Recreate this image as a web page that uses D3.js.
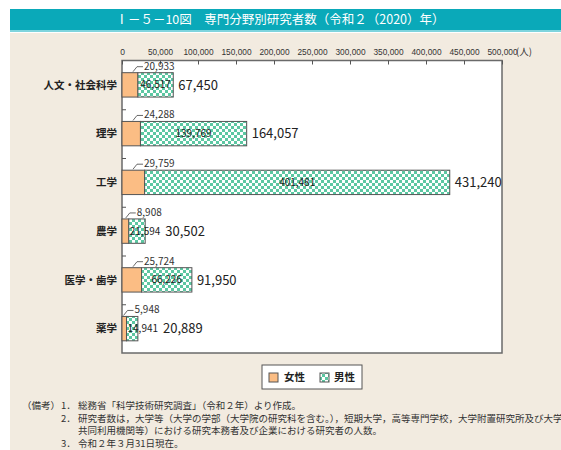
<!DOCTYPE html>
<html>
<head>
<meta charset="utf-8">
<script src="https://cdn.jsdelivr.net/npm/d3@7"></script>
<style>
  body { margin: 0; background: #fff; }
  text { font-family: "Noto Sans CJK JP", "Noto Sans", sans-serif; }
</style>
</head>
<body>
<div id="chart"></div>
<script>
// data
const categories = ["人文・社会科学", "理学", "工学", "農学", "医学・歯学", "薬学"];
const female = [20933, 24288, 29759, 8908, 25724, 5948];
const male = [46517, 139769, 401481, 21594, 66226, 14941];
const totals = [67450, 164057, 431240, 30502, 91950, 20889];
const xTicks = [0, 50000, 100000, 150000, 200000, 250000, 300000, 350000, 400000, 450000, 500000];

const titleText = "Ⅰ－５－10図　専門分野別研究者数（令和２（2020）年）";
const notes = [
  ["（備考）", "1．", "総務省「科学技術研究調査」（令和２年）より作成。"],
  ["", "2．", "研究者数は，大学等（大学の学部（大学院の研究科を含む。），短期大学，高等専門学校，大学附置研究所及び大学"],
  ["", "", "共同利用機関等）における研究本務者及び企業における研究者の人数。"],
  ["", "3．", "令和２年３月31日現在。"]
];

const width = 561, height = 450;
const plot = { left: 122, right: 502, top: 60.5, bottom: 353 };
const fmt = d3.format(",");

const svg = d3.select("#chart").append("svg")
  .attr("width", width)
  .attr("height", height);

// checkered fill for the male bars
const defs = svg.append("defs");
const pat = defs.append("pattern")
  .attr("id", "check")
  .attr("patternUnits", "userSpaceOnUse")
  .attr("width", 6)
  .attr("height", 6);
pat.append("rect").attr("width", 6).attr("height", 6).attr("fill", "#5cc7a2");
pat.append("rect").attr("width", 3).attr("height", 3).attr("fill", "#ffffff");
pat.append("rect").attr("x", 3).attr("y", 3).attr("width", 3).attr("height", 3).attr("fill", "#ffffff");

// background panel + title bar
svg.append("rect").attr("x", 10).attr("y", 9).attr("width", width - 10).attr("height", height - 9).attr("fill", "#f2ebe0");
svg.append("rect").attr("x", 10).attr("y", 9).attr("width", width - 10).attr("height", 21).attr("fill", "#0aa9b9");
svg.append("rect").attr("x", 10).attr("y", 30).attr("width", width - 10).attr("height", 2).attr("fill", "#7fd4dd");
svg.append("rect").attr("x", 10).attr("y", 32).attr("width", width - 10).attr("height", 1).attr("fill", "#ffffff");
svg.append("text")
  .attr("x", 280)
  .attr("y", 24)
  .attr("text-anchor", "middle")
  .attr("fill", "#ffffff")
  .style("font-size", "12.5px")
  .text(titleText);

// plot area
svg.append("rect")
  .attr("x", plot.left)
  .attr("y", plot.top)
  .attr("width", plot.right - plot.left)
  .attr("height", plot.bottom - plot.top)
  .attr("fill", "#ffffff")
  .attr("stroke", "#6a6a6a")
  .attr("stroke-width", 1.5);

const x = d3.scaleLinear().domain([0, 500000]).range([plot.left, plot.right]);
const y = d3.scaleBand()
  .domain(categories)
  .range([plot.top, plot.bottom])
  .paddingInner(0.5)
  .paddingOuter(0.25);
const yIdx = d3.scaleLinear().domain([0, categories.length]).range([plot.top, plot.bottom]);

// top axis, ticks pointing into the plot
const xAxis = svg.append("g")
  .attr("transform", `translate(0,${plot.top})`)
  .call(d3.axisTop(x).tickValues(xTicks).tickSizeInner(-4).tickSizeOuter(0).tickPadding(6).tickFormat(fmt));
xAxis.select(".domain").remove();
xAxis.selectAll("line").attr("stroke", "#555");
xAxis.selectAll("text")
  .attr("fill", "#333")
  .style("font-size", "8.5px")
  .style("font-family", "'Liberation Sans', sans-serif")
  .attr("textLength", d => d === 0 ? null : (d >= 100000 ? 30 : 25))
  .attr("lengthAdjust", "spacingAndGlyphs");
svg.append("text")
  .attr("x", x(500000) + 14)
  .attr("y", plot.top - 6)
  .attr("fill", "#333")
  .style("font-size", "9.5px")
  .text("(人)");

// left axis ticks between categories
const yAxis = svg.append("g")
  .attr("transform", `translate(${plot.left},0)`)
  .call(d3.axisRight(yIdx).tickValues(d3.range(1, categories.length)).tickSize(4).tickFormat(""));
yAxis.select(".domain").remove();
yAxis.selectAll("line").attr("stroke", "#555");

// category labels
svg.selectAll(".cat")
  .data(categories)
  .enter()
  .append("text")
  .attr("class", "cat")
  .attr("x", plot.left - 5)
  .attr("y", d => y(d) + y.bandwidth() / 2)
  .attr("dy", "0.35em")
  .attr("text-anchor", "end")
  .attr("fill", "#222")
  .style("font-size", "10.5px")
  .style("font-weight", "bold")
  .text(d => d);

const rows = categories.map((c, i) => ({ c, f: female[i], m: male[i], t: totals[i] }));
const g = svg.append("g");

rows.forEach(d => {
  const y0 = y(d.c), bh = y.bandwidth(), yc = y0 + bh / 2;
  const xf = x(d.f);
  const xm = x(d.f + d.m);

  g.append("rect")
    .attr("x", x(0)).attr("y", y0)
    .attr("width", xf - x(0)).attr("height", bh)
    .attr("fill", "#fbbd84").attr("stroke", "#555").attr("stroke-width", 1);
  g.append("rect")
    .attr("x", xf).attr("y", y0)
    .attr("width", xm - xf).attr("height", bh)
    .attr("fill", "url(#check)").attr("stroke", "#555").attr("stroke-width", 1);

  // female value with leader
  const lx = x(0) + Math.max(1.5, Math.min(xf - x(0) - 3, 11));
  const ly = y0 - 1;
  g.append("path")
    .attr("d", `M${lx},${ly} L${lx + 4},${ly - 5} L${lx + 10},${ly - 5}`)
    .attr("fill", "none").attr("stroke", "#444").attr("stroke-width", 0.8);
  g.append("text")
    .attr("x", lx + 11).attr("y", ly - 2)
    .attr("fill", "#333")
    .style("font-size", "10px")
    .text(fmt(d.f));

  // male value inside the bar
  const mt = g.append("text")
    .attr("y", yc).attr("dy", "0.35em")
    .attr("fill", "#1e1e1e")
    .style("font-size", "10px")
    .text(fmt(d.m));
  const tw = mt.node().getComputedTextLength();
  let mx;
  if (tw + 2 < xm - xf) mx = (xf + xm) / 2 - tw / 2;
  else mx = xf + 1;
  mt.attr("x", mx);

  // total
  g.append("text")
    .attr("x", Math.max(xm, mx + tw) + 5).attr("y", yc).attr("dy", "0.37em")
    .attr("fill", "#222")
    .style("font-size", "13px")
    .text(fmt(d.t));
});

// legend
const lg = svg.append("g").attr("transform", "translate(262,365)");
lg.append("rect").attr("width", 100).attr("height", 24).attr("fill", "#fff").attr("stroke", "#555").attr("stroke-width", 1);
lg.append("rect").attr("x", 7).attr("y", 8).attr("width", 9).attr("height", 9).attr("fill", "#fbbd84").attr("stroke", "#555");
lg.append("text").attr("x", 22).attr("y", 12.5).attr("dy", "0.35em").attr("fill", "#222").style("font-size", "10.5px").style("font-weight", "bold").text("女性");
lg.append("rect").attr("x", 58).attr("y", 8).attr("width", 9).attr("height", 9).attr("fill", "url(#check)").attr("stroke", "#555");
lg.append("text").attr("x", 72).attr("y", 12.5).attr("dy", "0.35em").attr("fill", "#222").style("font-size", "10.5px").style("font-weight", "bold").text("男性");

// notes
const nt = svg.append("g").style("font-size", "9.5px").attr("fill", "#333");
notes.forEach((n, i) => {
  const yy = 409 + i * 12.5;
  nt.append("text").attr("x", 22).attr("y", yy).text(n[0]);
  nt.append("text").attr("x", 61).attr("y", yy).text(n[1]);
  nt.append("text").attr("x", 78).attr("y", yy).text(n[2]);
});
</script>
</body>
</html>
